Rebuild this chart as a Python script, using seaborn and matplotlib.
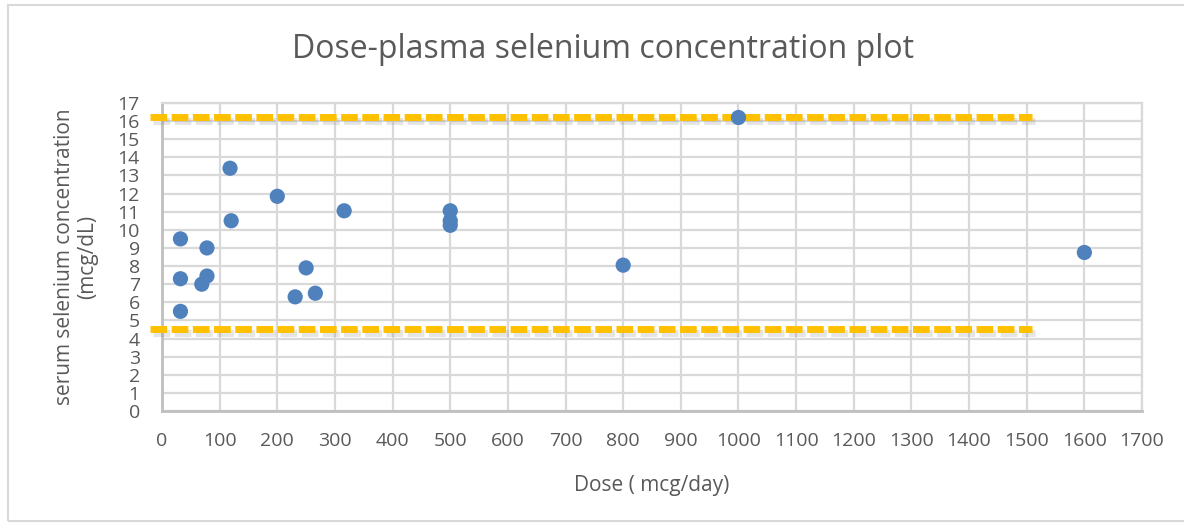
import numpy as np
import pandas as pd
import seaborn as sns
import matplotlib.pyplot as plt
import matplotlib.patheffects as pe
from matplotlib.patches import Rectangle

sns.set_style('white')
plt.rcParams['font.family'] = ['Open Sans', 'DejaVu Sans']

# ----------------------------------------------------------------------
# data
# ----------------------------------------------------------------------
dose = [32, 32, 32, 78, 78, 69, 118, 120, 200, 316, 250, 231, 266,
        500, 500, 500, 800, 1000, 1600]
selenium = [9.5, 7.3, 5.5, 9.0, 7.45, 7.0, 13.4, 10.5, 11.85, 11.05, 7.9,
            6.3, 6.5, 11.05, 10.5, 10.25, 8.05, 16.2, 8.75]

# reference range lines (dashed, gold)
ref_x = [-20, 1510]
ref_upper = 16.2
ref_lower = 4.5

x_ticks = list(range(0, 1701, 100))
y_ticks = list(range(0, 18))

df = pd.DataFrame({'Dose': dose, 'Selenium': selenium})

grey_text = '#595959'

fig = plt.figure(figsize=(11.84, 5.25), dpi=100)
ax = fig.add_axes([162 / 1184, 1 - 411 / 525, (1142 - 162) / 1184, (411 - 103) / 525])

# outer chart border
fig.patches.append(Rectangle((8 / 1184, 1 - 521 / 525), 1.2, (521 - 5) / 525,
                             transform=fig.transFigure, fill=False,
                             edgecolor='#D9D9D9', linewidth=1.5))

ax.set_xlim(0, 1700)
ax.set_ylim(0, 17)
ax.set_xticks(x_ticks)
ax.set_yticks(y_ticks)
ax.grid(True, color='#D9D9D9', linewidth=1.6)
ax.set_axisbelow(True)

shadow = [pe.SimpleLineShadow(offset=(1.5, -2.5), alpha=0.2, shadow_color='#7f7f7f'), pe.Normal()]
for yv in [ref_upper, ref_lower]:
    ax.plot(ref_x, [yv, yv], color='#FFC000', linewidth=5, dashes=(2.4, 0.65),
            solid_capstyle='butt', dash_capstyle='butt', clip_on=False,
            path_effects=shadow, zorder=3)

sns.scatterplot(data=df, x='Dose', y='Selenium', ax=ax, s=120, color='#4F81BD',
                edgecolor='none', zorder=4, clip_on=False)

for side in ['top', 'right']:
    ax.spines[side].set_color('#D9D9D9')
    ax.spines[side].set_linewidth(1.6)
for side in ['left', 'bottom']:
    ax.spines[side].set_color('#BFBFBF')
    ax.spines[side].set_linewidth(2)

ax.tick_params(axis='both', length=0, labelsize=14, labelcolor=grey_text)
ax.tick_params(axis='y', pad=16)
ax.tick_params(axis='x', pad=15)

ax.set_xlabel('Dose ( mcg/day)', fontsize=15, color=grey_text, labelpad=18)
ax.set_ylabel('serum selenium concentration\n(mcg/dL)', fontsize=15, color=grey_text,
              labelpad=14, linespacing=1.1)

fig.text(0.509, 1 - 50 / 525, 'Dose-plasma selenium concentration plot',
         ha='center', va='center', fontsize=23, color=grey_text)

fig.savefig('out.png', dpi=100)
